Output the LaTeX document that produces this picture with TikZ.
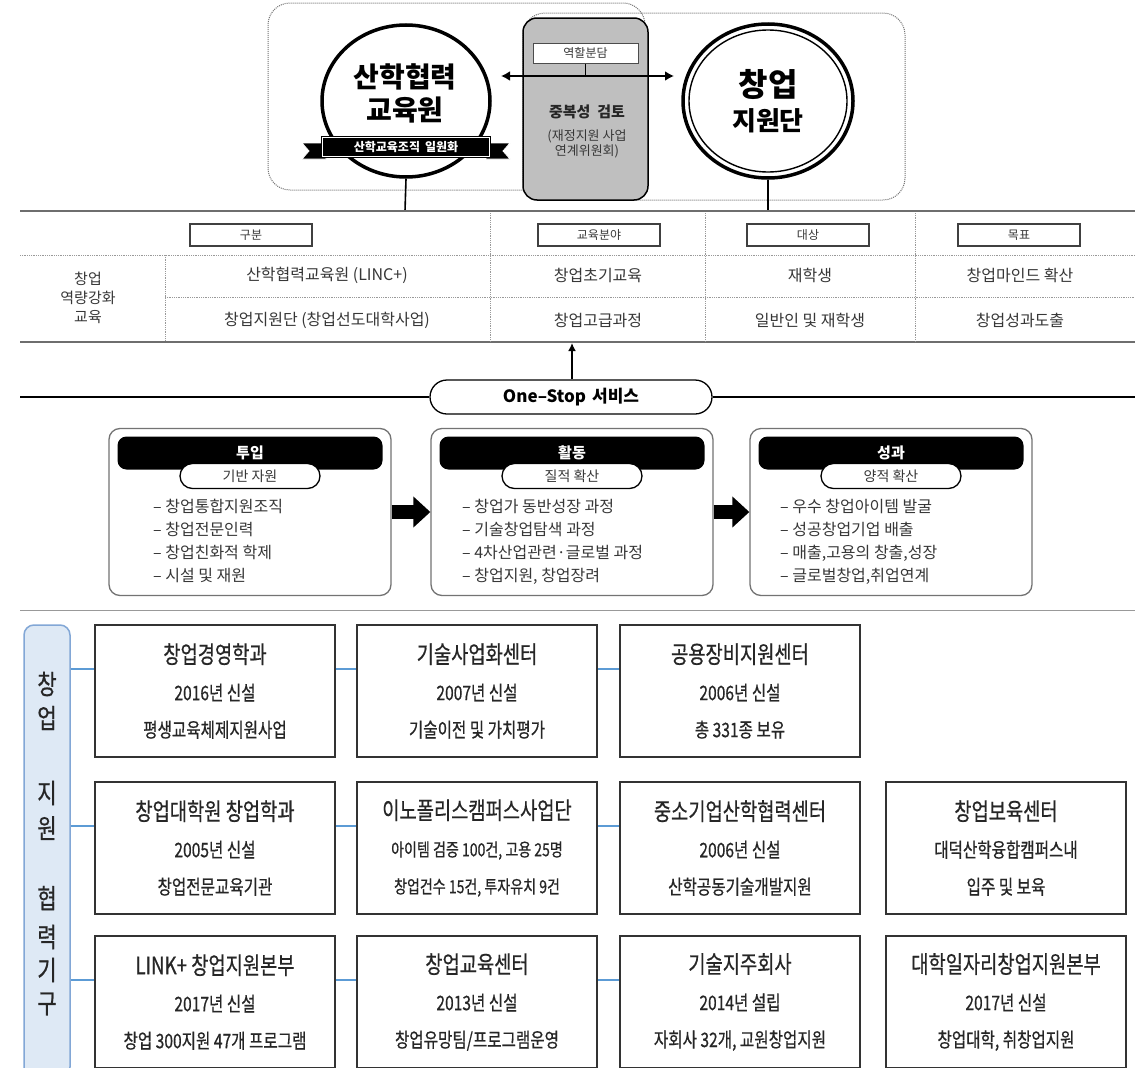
\documentclass[tikz,border=0pt]{standalone}
\usepackage{fontspec}
\setmainfont{Noto Sans CJK KR}
\newfontfamily\narrowkr[FakeStretch=0.78,FakeBold=0.6]{Noto Sans CJK KR}
\usetikzlibrary{arrows.meta,positioning,shapes.misc,shapes.geometric,calc}

\definecolor{panelgrey}{RGB}{191,191,191}
\definecolor{textgrey}{RGB}{55,55,55}
\definecolor{rulegrey}{RGB}{110,110,110}
\definecolor{tagfill}{RGB}{222,233,245}
\definecolor{tagline}{RGB}{130,167,214}
\definecolor{linkblue}{RGB}{92,155,213}

\newcommand{\fs}[1]{\fontsize{#1}{#1}\selectfont}
\newcommand{\orgtext}[3]{{\fontsize{24}{37}\selectfont #1}\\#2\\#3}

\tikzset{
  hrule/.style={draw=rulegrey, line width=2.4pt},
  dotrule/.style={draw=black!40, densely dotted, line width=0.8pt},
  zonebox/.style={draw=black!55, densely dotted, line width=1pt, rounded corners=22pt},
  headtag/.style={draw=black!75, line width=1.1pt, minimum width=122, minimum height=22, inner sep=0pt, font=\fs{12}, text=textgrey},
  cell/.style={font=\fs{16}, text=textgrey, inner sep=0pt},
  stagebox/.style={draw=black!55, line width=1.3pt, rounded corners=11pt, minimum width=282, minimum height=167},
  stagebar/.style={fill=black, rounded corners=9pt, minimum width=265, minimum height=33, inner sep=0pt, text=white, font=\bfseries\fs{15}},
  stagepill/.style={draw=black, fill=white, line width=1.3pt, rounded rectangle, minimum width=140, minimum height=25, inner sep=0pt, font=\fs{14}, text=textgrey},
  stageitems/.style={align=left, anchor=north west, inner sep=0pt, font=\fontsize{16}{23}\selectfont, text=textgrey},
  stagearrow/.style={line width=14pt, -{Triangle[length=17pt,width=30pt]}},
  orgbox/.style={draw=black!80, line width=1.6pt, minimum width=240, minimum height=132, inner sep=0pt, align=center, text=black!85, font=\narrowkr\fontsize{20}{37}\selectfont},
  link/.style={draw=linkblue, line width=1.3pt},
}

\begin{document}
\begin{tikzpicture}[x=1pt, y=-1pt]
  \useasboundingbox[fill=white] (0,0) rectangle (1135,1068);

  % top: two organisations
  \draw[zonebox] (268,3) rectangle (645,190);
  \draw[zonebox] (523,13) rectangle (905,200);
  \node[draw=black, line width=1.5pt, fill=panelgrey, rounded corners=14pt, minimum width=125, minimum height=182, inner sep=0pt] (review) at (585.5,109) {};
  \node[draw=black!70, fill=white, line width=1pt, minimum width=105, minimum height=20, inner sep=0pt, font=\fs{12}, text=textgrey] (role) at (585.5,53) {역할분담};
  \node[font=\bfseries\fs{15}, text=black!85] (dup) at (587,112) {중복성\hspace{7pt}검토};
  \node[font=\fontsize{13}{15}\selectfont, align=center, text=textgrey] (dupnote) at (587,144) {(재정지원 사업\\연계위원회)};

  \node[ellipse, draw, line width=3.5pt, minimum width=168, minimum height=152, inner sep=0pt] (lcirc) at (406,101) {};
  \node[font=\bfseries\fontsize{28}{33}\selectfont, align=center] (ltitle) at (405,93) {산학협력\\교육원};
  \node[ellipse, draw, line width=3.5pt, minimum width=170, minimum height=154, inner sep=0pt] (rcirc) at (768,101) {};
  \node[ellipse, draw, line width=1.4pt, minimum width=158, minimum height=142, inner sep=0pt] (rcircin) at (768,101) {};
  \node[font=\bfseries\fs{32}] (rtitle) at (768,84) {창업};
  \node[font=\bfseries\fs{26}, below=2pt of rtitle] (rsub) {지원단};

  % ribbon
  \filldraw[fill=black, draw=white, line width=0.8pt] (302,143) -- (326,143) -- (326,159) -- (302,159) -- (309,151) -- cycle;
  \filldraw[fill=black, draw=white, line width=0.8pt] (510,143) -- (486,143) -- (486,159) -- (510,159) -- (503,151) -- cycle;
  \node[fill=black, minimum width=170, minimum height=22, inner sep=0pt, text=white, font=\bfseries\fs{12}] (banner) at (406,147) {산학교육조직\hspace{5pt}일원화};
  \draw[white, line width=0.7pt] ([shift={(2pt,2pt)}]banner.south west) rectangle ([shift={(-2pt,-2pt)}]banner.north east);

  \coordinate (arrL) at (501,76);
  \coordinate (arrR) at (674,76);
  \draw[line width=2pt, {Latex[length=9pt,width=10pt]}-{Latex[length=9pt,width=10pt]}] (arrL) -- (arrR);
  \draw[line width=0.8pt] (role.south) -- (role.south |- arrL);

  \coordinate (ltop) at (405,211);
  \coordinate (rtop) at (768,211);
  \draw[line width=1.6pt] (lcirc.south) -- (ltop);
  \draw[line width=1.6pt] (rcirc.south) -- (rtop);

  % table
  \draw[hrule] (20,211) -- (1135,211);
  \draw[hrule] (20,342) -- (1135,342);
  \draw[dotrule] (20,255) -- (1135,255);
  \draw[dotrule] (165,297) -- (1135,297);
  \draw[dotrule] (165,255) -- (165,341);
  \draw[dotrule] (490,213) -- (490,341);
  \draw[dotrule] (705,213) -- (705,341);
  \draw[dotrule] (915,213) -- (915,341);

  \node[headtag] (h1) at (251,235) {구분};
  \node[headtag] (h2) at (599,235) {교육분야};
  \node[headtag] (h3) at (808,235) {대상};
  \node[headtag] (h4) at (1019,235) {목표};

  \node[cell, align=center, font=\fontsize{15}{19}\selectfont] (rowlab) at (88,298) {창업\\역량강화\\교육};
  \node[cell] (c11) at (327,275) {산학협력교육원 (LINC+)};
  \node[cell] (c12) at (598,275) {창업초기교육};
  \node[cell] (c13) at (810,275) {재학생};
  \node[cell] (c14) at (1020,275) {창업마인드 확산};
  \node[cell] (c21) at (327,320) {창업지원단 (창업선도대학사업)};
  \node[cell] (c22) at (598,320) {창업고급과정};
  \node[cell] (c23) at (810,320) {일반인 및 재학생};
  \node[cell] (c24) at (1020,320) {창업성과도출};

  % one-stop
  \node[draw, line width=1.3pt, rounded rectangle, minimum width=282, minimum height=34, inner sep=0pt, font=\bfseries\fs{17}] (onestop) at (571,397) {One–Stop\hspace{6pt}서비스};
  \coordinate (osL) at (20,397);
  \coordinate (osR) at (1135,397);
  \coordinate (tabB) at (572,343);
  \draw[line width=1.2pt] (osL) -- (onestop.west);
  \draw[line width=1.2pt] (onestop.east) -- (osR);
  \draw[line width=1.6pt, -{Latex[length=8pt,width=8pt]}] (onestop.north -| tabB) -- (tabB);

  % stages
  \node[stagebox] (sin) at (250,512) {};
  \node[stagebar] (sinbar) at (250,453) {투입};
  \node[stagepill] (sinpill) at (250,476) {기반 자원};
  \node[stageitems] (sinitems) at (153,499) {– 창업통합지원조직\\– 창업전문인력\\– 창업친화적 학제\\– 시설 및 재원};

  \node[stagebox] (sact) at (572,512) {};
  \node[stagebar] (sactbar) at (572,453) {활동};
  \node[stagepill] (sactpill) at (572,476) {질적 확산};
  \node[stageitems] (sactitems) at (462,499) {– 창업가 동반성장 과정\\– 기술창업탐색 과정\\– 4차산업관련·글로벌 과정\\– 창업지원, 창업장려};

  \node[stagebox] (sout) at (891,512) {};
  \node[stagebar] (soutbar) at (891,453) {성과};
  \node[stagepill] (soutpill) at (891,476) {양적 확산};
  \node[stageitems] (soutitems) at (780,499) {– 우수 창업아이템 발굴\\– 성공창업기업 배출\\– 매출,고용의 창출,성장\\– 글로벌창업,취업연계};

  \draw[stagearrow] (sin.east) -- (sact.west);
  \draw[stagearrow] (sact.east) -- (sout.west);

  \draw[draw=black!40, line width=1pt] (20,610) -- (1135,610);

  % cooperating bodies
  \node[draw=tagline, fill=tagfill, line width=1.5pt, rounded corners=10pt, minimum width=46, minimum height=452, inner sep=0pt] (tag) at (47,851) {};
  \foreach \c/\y [count=\i] in {창/684, 업/718, 지/793, 원/828, 협/898, 력/937, 기/970, 구/1004}
    \node[font=\narrowkr\fs{27}, text=black!85] (tagc\i) at (47,\y) {\c};

  \node[orgbox] (g11) at (215,691) {\orgtext{창업경영학과}{2016년 신설}{평생교육체제지원사업}};
  \node[orgbox] (g12) at (477,691) {\orgtext{기술사업화센터}{2007년 신설}{기술이전 및 가치평가}};
  \node[orgbox] (g13) at (740,691) {\orgtext{공용장비지원센터}{2006년 신설}{총 331종 보유}};

  \node[orgbox] (g21) at (215,848) {\orgtext{창업대학원 창업학과}{2005년 신설}{창업전문교육기관}};
  \node[orgbox, font=\narrowkr\fontsize{18}{37}\selectfont] (g22) at (477,848) {\orgtext{이노폴리스캠퍼스사업단}{아이템 검증 100건, 고용 25명}{창업건수 15건, 투자유치 9건}};
  \node[orgbox] (g23) at (740,848) {\orgtext{중소기업산학협력센터}{2006년 신설}{산학공동기술개발지원}};
  \node[orgbox] (g24) at (1006,848) {\orgtext{창업보육센터}{대덕산학융합캠퍼스내}{입주 및 보육}};

  \node[orgbox] (g31) at (215,1002) {\orgtext{LINK+ 창업지원본부}{2017년 신설}{창업 300지원 47개 프로그램}};
  \node[orgbox] (g32) at (477,1002) {\orgtext{창업교육센터}{2013년 신설}{창업유망팀/프로그램운영}};
  \node[orgbox] (g33) at (740,1002) {\orgtext{기술지주회사}{2014년 설립}{자회사 32개, 교원창업지원}};
  \node[orgbox] (g34) at (1006,1002) {\orgtext{대학일자리창업지원본부}{2017년 신설}{창업대학, 취창업지원}};

  \foreach \r in {1,2,3} {
    \draw[link] (tag.east |- {$(g\r1.west)+(0,-22)$}) -- ($(g\r1.west)+(0,-22)$);
    \draw[link] ($(g\r1.east)+(0,-22)$) -- ($(g\r2.west)+(0,-22)$);
    \draw[link] ($(g\r2.east)+(0,-22)$) -- ($(g\r3.west)+(0,-22)$);
  }
\end{tikzpicture}
\end{document}
